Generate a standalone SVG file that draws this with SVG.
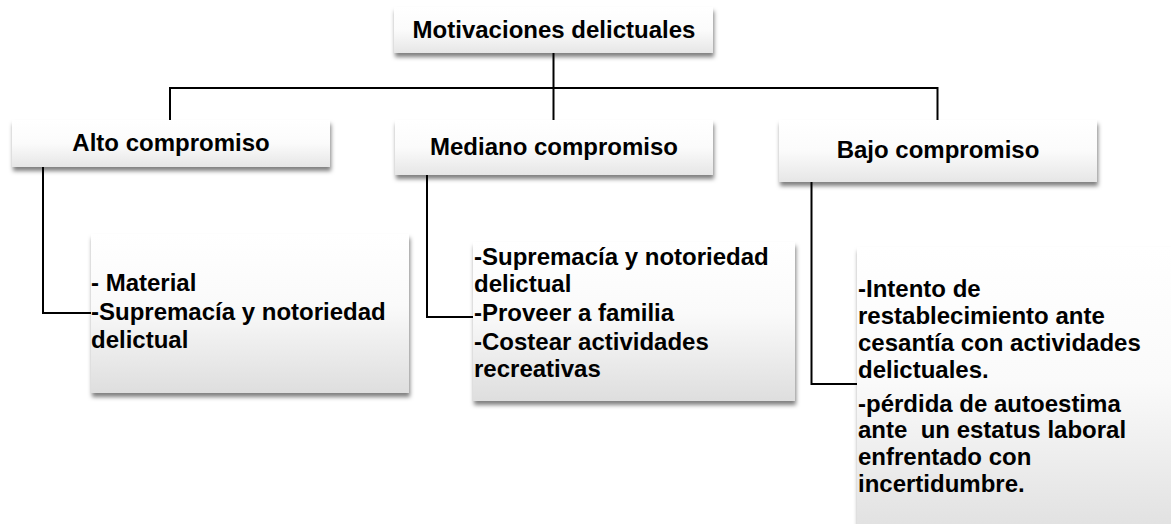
<svg xmlns="http://www.w3.org/2000/svg" width="1171" height="524" viewBox="0 0 1171 524">
<style>
  .t { font-family: "Liberation Sans", Arial, sans-serif; font-weight: bold; font-size: 24px; fill: #000; }
  .c { text-anchor: middle; }
  .conn { fill: none; stroke: #000; stroke-width: 2; }
  .hbox { fill: url(#gHead); filter: url(#sh); }
  .cbox { fill: url(#gBody); filter: url(#sh); }
</style>
<defs>
  <linearGradient id="gHead" x1="0" y1="0" x2="0" y2="1">
    <stop offset="0" stop-color="#ffffff"/>
    <stop offset="0.5" stop-color="#fbfbfb"/>
    <stop offset="1" stop-color="#e6e6e6"/>
  </linearGradient>
  <linearGradient id="gBody" x1="0" y1="0" x2="0" y2="1">
    <stop offset="0" stop-color="#ffffff"/>
    <stop offset="0.45" stop-color="#fafafa"/>
    <stop offset="1" stop-color="#dedede"/>
  </linearGradient>
  <filter id="sh" x="-10%" y="-10%" width="120%" height="130%">
    <feDropShadow dx="1" dy="4" stdDeviation="2" flood-color="#000" flood-opacity="0.5"/>
  </filter>
</defs>
<rect width="1171" height="524" fill="#fff"/>
<g id="connectors">
  <path class="conn" d="M553.5 50 V88"/>
  <path class="conn" d="M170 88 H937.5"/>
  <path class="conn" d="M170 87 V122"/>
  <path class="conn" d="M553.5 87 V122"/>
  <path class="conn" d="M937.5 87 V122"/>
  <path class="conn" d="M43 165 V313 H92"/>
  <path class="conn" d="M427 172 V317 H474"/>
  <path class="conn" d="M811.5 180 V384 H858"/>
</g>
<g id="root">
  <rect class="hbox" x="394" y="7" width="319" height="46"/>
  <text class="t c" x="554" y="38">Motivaciones delictuales</text>
</g>
<g id="alto">
  <rect class="hbox" x="12" y="120" width="318" height="47"/>
  <text class="t c" x="171" y="151">Alto compromiso</text>
</g>
<g id="mediano">
  <rect class="hbox" x="395" y="120" width="318" height="55"/>
  <text class="t c" x="554" y="155">Mediano compromiso</text>
</g>
<g id="bajo">
  <rect class="hbox" x="779" y="120" width="318" height="62"/>
  <text class="t c" x="938" y="158">Bajo compromiso</text>
</g>
<g id="alto-detalle">
  <rect class="cbox" x="91" y="234" width="318" height="159"/>
  <text class="t" x="91" y="291">- Material</text>
  <text class="t" x="91" y="320">-Supremacía y notoriedad</text>
  <text class="t" x="91" y="348">delictual</text>
</g>
<g id="mediano-detalle">
  <rect class="cbox" x="473" y="242" width="322" height="159"/>
  <text class="t" x="474" y="265">-Supremacía y notoriedad</text>
  <text class="t" x="474" y="292">delictual</text>
  <text class="t" x="474" y="321">-Proveer a familia</text>
  <text class="t" x="474" y="350">-Costear actividades</text>
  <text class="t" x="474" y="377">recreativas</text>
</g>
<g id="bajo-detalle">
  <rect class="cbox" x="857" y="247" width="330" height="300"/>
  <text class="t" x="858" y="297">-Intento de</text>
  <text class="t" x="858" y="324">restablecimiento ante</text>
  <text class="t" x="858" y="351">cesantía con actividades</text>
  <text class="t" x="858" y="378">delictuales.</text>
  <text class="t" x="858" y="412">-pérdida de autoestima</text>
  <text class="t" x="858" y="438" xml:space="preserve">ante  un estatus laboral</text>
  <text class="t" x="858" y="465">enfrentado con</text>
  <text class="t" x="858" y="492">incertidumbre.</text>
</g>
</svg>
